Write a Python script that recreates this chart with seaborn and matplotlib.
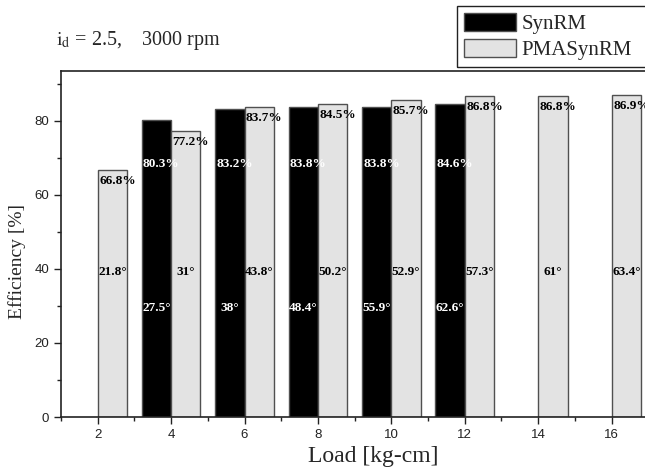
import matplotlib
matplotlib.use("Agg")
import matplotlib.pyplot as plt
import seaborn as sns
import pandas as pd
from matplotlib.ticker import MultipleLocator
from matplotlib.patches import Rectangle

# ---- data ----
syn_load = [4, 6, 8, 10, 12]
syn_eff = [80.3, 83.2, 83.8, 83.8, 84.6]
syn_angle = [27.5, 38, 48.4, 55.9, 62.6]

pma_load = [2, 4, 6, 8, 10, 12, 14, 16]
pma_eff = [66.8, 77.2, 83.7, 84.5, 85.7, 86.8, 86.8, 86.9]
pma_angle = [21.8, 31, 43.8, 50.2, 52.9, 57.3, 61, 63.4]

motors = ["SynRM", "PMASynRM"]
x_ticks = [2, 4, 6, 8, 10, 12, 14, 16]
y_ticks = [0, 20, 40, 60, 80]

df = pd.DataFrame({
    "Load": syn_load + pma_load,
    "Efficiency": syn_eff + pma_eff,
    "Motor": [motors[0]] * len(syn_load) + [motors[1]] * len(pma_load),
})

sns.set_style("ticks")
plt.rcParams["font.family"] = ["Liberation Sans", "DejaVu Sans"]
plt.rcParams["mathtext.fontset"] = "stix"

fig = plt.figure(figsize=(6.45, 4.75), dpi=100)
ax = fig.add_axes([61 / 645, 58 / 475, 624 / 645, 346 / 475])

sns.barplot(data=df, x="Load", y="Efficiency", hue="Motor", hue_order=motors,
            palette={"SynRM": "black", "PMASynRM": "#e3e3e3"},
            native_scale=True, dodge=True, errorbar=None, saturation=1,
            edgecolor="#505050", linewidth=1.0, ax=ax)

ax.set_xlim(1, 18)
ax.set_ylim(0, 93.5)
ax.set_xticks(x_ticks)
ax.set_xticklabels([str(v) for v in x_ticks])
ax.xaxis.set_minor_locator(MultipleLocator(1))
ax.set_yticks(y_ticks)
ax.yaxis.set_minor_locator(MultipleLocator(10))
ax.tick_params(axis="both", which="major", direction="out", length=5, width=1,
               labelsize=9.5, colors="#222222", labelcolor="#222222")
ax.tick_params(axis="both", which="minor", direction="out", length=3, width=1, colors="#222222")
ax.tick_params(top=False, right=False, which="both")
for s in ["left", "bottom", "top"]:
    ax.spines[s].set_linewidth(1.2)
    ax.spines[s].set_color("#222222")
ax.spines["right"].set_visible(False)

ax.set_xlabel("Load [kg-cm]", family="Liberation Serif", fontsize=17, labelpad=4)
ax.set_ylabel("Efficiency [%]", family="Liberation Serif", fontsize=14, labelpad=4)
ax.yaxis.set_label_coords(-0.056, 0.45)

lab = dict(family="Liberation Serif", fontweight="bold", fontsize=9.5)
for x, e, a in zip(syn_load, syn_eff, syn_angle):
    ax.text(x - 0.8 + 0.03, 68.4, f"{e}%", color="white", ha="left", va="center", **lab)
    ax.text(x - 0.4, 29.5, f"{a}°", color="white", ha="center", va="center", **lab)
for x, e, a in zip(pma_load, pma_eff, pma_angle):
    ax.text(x + 0.04, e - 2.9, f"{e}%", color="black", ha="left", va="center", **lab)
    ax.text(x + 0.4, 39.2, f"{a:g}°", color="black", ha="center", va="center", **lab)

handles, labels = ax.get_legend_handles_labels()
if ax.get_legend() is not None:
    ax.get_legend().remove()
leg = fig.legend(handles, labels, loc="upper left",
                 bbox_to_anchor=(457 / 645, 1 - 6 / 475),
                 bbox_transform=fig.transFigure,
                 prop={"family": "Liberation Serif", "size": 15},
                 frameon=False,
                 handlelength=2.5, handleheight=0.9, handletextpad=0.25,
                 labelspacing=0.25, borderpad=0.35, borderaxespad=0)
# legend frame running past the right edge, as in the reference
fig.patches.append(Rectangle((457 / 645, 1 - 67 / 475), 200 / 645, 61 / 475,
                             transform=fig.transFigure, fill=False,
                             edgecolor="#222222", linewidth=1.0, zorder=0))

fig.text(56 / 645, 1 - 41 / 475, r"$\mathrm{i_d}$ = 2.5,    3000 rpm",
         family="Liberation Serif", fontsize=14.5, ha="left", va="center")

fig.savefig("out.png", dpi=100)
